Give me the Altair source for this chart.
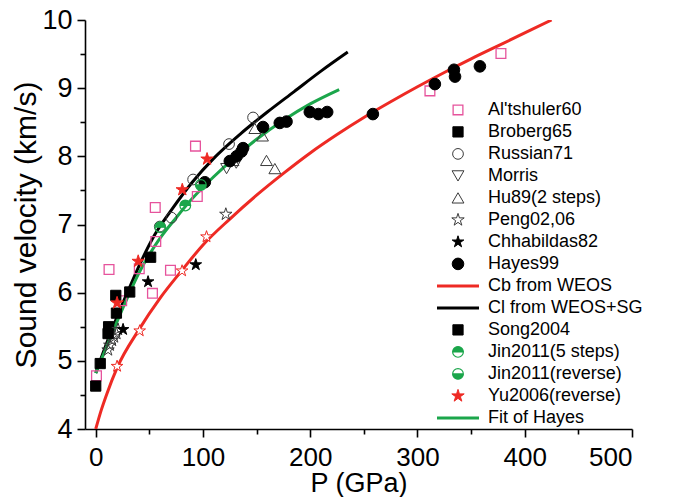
import altair as alt
import pandas as pd

# ---------------- data ----------------
# curves
cb_P = [0, 5, 10, 20, 40, 60, 80, 100, 125, 150, 175, 200, 225, 250, 275, 300, 325, 350, 375, 400, 425]
cb_v = [4.0, 4.27, 4.5, 4.9, 5.45, 5.92, 6.32, 6.70, 7.08, 7.43, 7.75, 8.05, 8.32, 8.57, 8.80, 9.02, 9.23, 9.43, 9.62, 9.81, 10.0]

cl_P = [0, 10, 20, 30, 40, 55, 70, 90, 110, 135, 160, 185, 210, 235]
cl_v = [4.82, 5.25, 5.65, 6.02, 6.38, 6.85, 7.2, 7.62, 7.97, 8.33, 8.65, 8.95, 9.25, 9.53]

fit_P = [0, 10, 20, 30, 40, 50, 60, 75, 90, 110, 130, 150, 175, 200, 227]
fit_v = [4.82, 5.2, 5.58, 5.94, 6.28, 6.56, 6.80, 7.10, 7.38, 7.70, 7.99, 8.25, 8.53, 8.77, 8.98]

# data sets
alt_P = [0.7, 12.4, 24.2, 40.6, 52.9, 56, 55.5, 69.7, 93, 94.7, 311.6, 377.8]
alt_v = [4.78, 6.34, 5.88, 6.35, 5.99, 6.75, 7.25, 6.33, 8.15, 7.41, 8.96, 9.51]

bro_P = [0, 4.2, 12, 19.3, 18.7]
bro_v = [4.63, 4.96, 5.50, 5.70, 5.96]

song_P = [31.7, 51.2, 11.5]
song_v = [6.01, 6.52, 5.40]

rus_P = [59.7, 70.6, 90.8, 124.3, 146.7]
rus_v = [6.97, 7.10, 7.66, 8.18, 8.57]

mor_P = [122, 131]
mor_v = [7.82, 7.90]

hu_P = [128, 148.3, 155.5, 159.2, 167]
hu_v = [7.94, 8.41, 8.30, 7.94, 7.82]

peng_P = [11.5, 13.1, 15.2, 17.1, 19.3, 20.8, 121.3]
peng_v = [5.16, 5.23, 5.30, 5.35, 5.40, 5.46, 7.15]

chh_P = [25.5, 48.8, 93.3]
chh_v = [5.46, 6.16, 6.41]

hay_P = [101.7, 125, 131.3, 135.9, 137.4, 156, 171.6, 177.9, 199.6, 207.6, 215.8, 258.4, 316.2, 334, 335, 358.2]
hay_v = [7.62, 7.93, 8.00, 8.07, 8.12, 8.43, 8.49, 8.51, 8.65, 8.62, 8.65, 8.62, 9.06, 9.27, 9.17, 9.32]

jin5_P = [60.2, 83.5]
jin5_v = [6.96, 7.28]

jinr_P = [98]
jinr_v = [7.58]

yu_P = [19.9, 39.6, 80.7, 103.8]
yu_v = [5.85, 6.46, 7.51, 7.96]

# bulk sound velocity points on the Cb curve (red open stars, not in legend)
pb_P = [19.9, 41, 80.5, 103.3]
pb_v = [4.92, 5.44, 6.32, 6.82]

# ---------------- styles ----------------
STAR = "M0,-1L0.2245,-0.309L0.9511,-0.309L0.3633,0.118L0.5878,0.809L0,0.382L-0.5878,0.809L-0.3633,0.118L-0.9511,-0.309L-0.2245,-0.309Z"
HALF_TOP = "M-1,0A1,1,0,1,1,1,0A1,1,0,1,1,-1,0Z M-1,0A1,1,0,0,0,1,0Z"
HALF_BOT = "M-1,0A1,1,0,1,1,1,0A1,1,0,1,1,-1,0Z M1,0A1,1,0,0,0,-1,0Z"

PINK = "#E6539C"
RED = "#EE2A24"
GREEN = "#1BA64B"
GREY = "#3a3a3a"

order = ["Al'tshuler60", "Broberg65", "Russian71", "Morris", "Hu89(2 steps)", "Peng02,06",
         "Chhabildas82", "Hayes99", "Cb from WEOS", "Cl from WEOS+SG", "Song2004",
         "Jin2011(5 steps)", "Jin2011(reverse)", "Yu2006(reverse)", "Fit of Hayes"]
color_r = [PINK, "black", GREY, GREY, GREY, GREY, "black", "black", RED, "black", "black",
           GREEN, GREEN, RED, GREEN]
fill_r = ["transparent", "black", "transparent", "transparent", "transparent", "transparent",
          "black", "black", "transparent", "transparent", "black", GREEN, GREEN, RED, "transparent"]
shape_r = ["square", "square", "circle", "triangle-down", "triangle-up", STAR, STAR, "circle",
           "stroke", "stroke", "square", HALF_TOP, HALF_BOT, STAR, "stroke"]
size_r = [95, 105, 115, 140, 140, 170, 150, 135, 1764, 1764, 105, 115, 115, 170, 1764]
sw_r = [1.3, 1, 1, 1, 1, 1, 1, 1, 3, 3, 1, 1.2, 1.2, 1, 3]

pts = pd.concat([
    pd.DataFrame({"P": p, "v": v, "series": s}) for p, v, s in [
        (alt_P, alt_v, "Al'tshuler60"), (bro_P, bro_v, "Broberg65"), (rus_P, rus_v, "Russian71"),
        (mor_P, mor_v, "Morris"), (hu_P, hu_v, "Hu89(2 steps)"), (peng_P, peng_v, "Peng02,06"),
        (chh_P, chh_v, "Chhabildas82"), (hay_P, hay_v, "Hayes99"), (song_P, song_v, "Song2004"),
        (jin5_P, jin5_v, "Jin2011(5 steps)"), (jinr_P, jinr_v, "Jin2011(reverse)"),
        (yu_P, yu_v, "Yu2006(reverse)")]
], ignore_index=True)

lines = pd.concat([
    pd.DataFrame({"P": cl_P, "v": cl_v, "series": "Cl from WEOS+SG"}),
    pd.DataFrame({"P": cb_P, "v": cb_v, "series": "Cb from WEOS"}),
    pd.DataFrame({"P": fit_P, "v": fit_v, "series": "Fit of Hayes"}),
], ignore_index=True)

pb = pd.DataFrame({"P": pb_P, "v": pb_v})

FONT = "Liberation Sans"

legend = alt.Legend(title=None, orient="none", legendX=350.5, legendY=79, clipHeight=21.8,
                    rowPadding=0, labelOffset=7.5, labelFontSize=18, labelFont=FONT,
                    labelColor="black", padding=0, symbolFillColor="white")

x_enc = alt.X("P:Q", scale=alt.Scale(domain=[-10, 500], nice=False, zero=False),
              axis=alt.Axis(values=list(range(0, 501, 50)),
                            labelExpr="datum.value % 100 === 0 ? format(datum.value, 'd') : ''",
                            tickSize={"condition": {"test": "datum.value % 100 === 0", "value": 8}, "value": 5},
                            title="P (GPa)", titlePadding=0, titleFontSize=27, labelPadding=7,
                            labelFontSize=26))
y_enc = alt.Y("v:Q", scale=alt.Scale(domain=[4, 10], nice=False, zero=False),
              axis=alt.Axis(values=[4 + 0.5 * i for i in range(13)],
                            labelExpr="datum.value % 1 === 0 ? format(datum.value, 'd') : ''",
                            tickSize={"condition": {"test": "datum.value % 1 === 0", "value": 8}, "value": 5},
                            title="Sound velocity (km/s)", titlePadding=0, labelPadding=5))

def sc(rng, **kw):
    return alt.Scale(domain=order, range=rng, **kw)

color_enc = alt.Color("series:N", scale=sc(color_r), legend=legend, sort=order)
sw_enc = alt.StrokeWidth("series:N", scale=sc(sw_r, type="ordinal"), legend=legend, sort=order)

line_layers = []
for name in ["Cl from WEOS+SG", "Cb from WEOS", "Fit of Hayes"]:
    line_layers.append(
        alt.Chart(lines).transform_filter(alt.datum.series == name)
        .mark_line(interpolate="monotone", clip=True)
        .encode(x=x_enc, y=y_enc, color=color_enc, strokeWidth=sw_enc)
    )

points = alt.Chart(pts).mark_point(filled=False, opacity=1).encode(
    x=x_enc, y=y_enc,
    color=color_enc,
    fill=alt.Fill("series:N", scale=sc(fill_r), legend=legend, sort=order),
    shape=alt.Shape("series:N", scale=sc(shape_r), legend=legend, sort=order),
    size=alt.Size("series:N", scale=sc(size_r, type="ordinal"), legend=legend, sort=order),
    strokeWidth=sw_enc,
)

pb_layer = alt.Chart(pb).mark_point(shape=STAR, size=150, stroke=RED, fill="white",
                                    strokeWidth=1, opacity=1).encode(x=x_enc, y=y_enc)

chart = alt.layer(*line_layers, points, pb_layer).properties(
    width=547, height=409,
    autosize=alt.AutoSizeParams(type="none"),
    padding={"left": 85, "top": 20, "right": 41, "bottom": 68},
    background="white",
).configure_view(stroke=None).configure_axis(
    labelFont=FONT, titleFont=FONT, labelFontSize=27, titleFontSize=30,
    titleFontWeight="normal", labelColor="black", titleColor="black",
    domainColor="black", tickColor="black", domainWidth=1.6, tickWidth=1.6, grid=False,
)

chart.save("out.html", embed_options={"renderer": "svg", "actions": False})
